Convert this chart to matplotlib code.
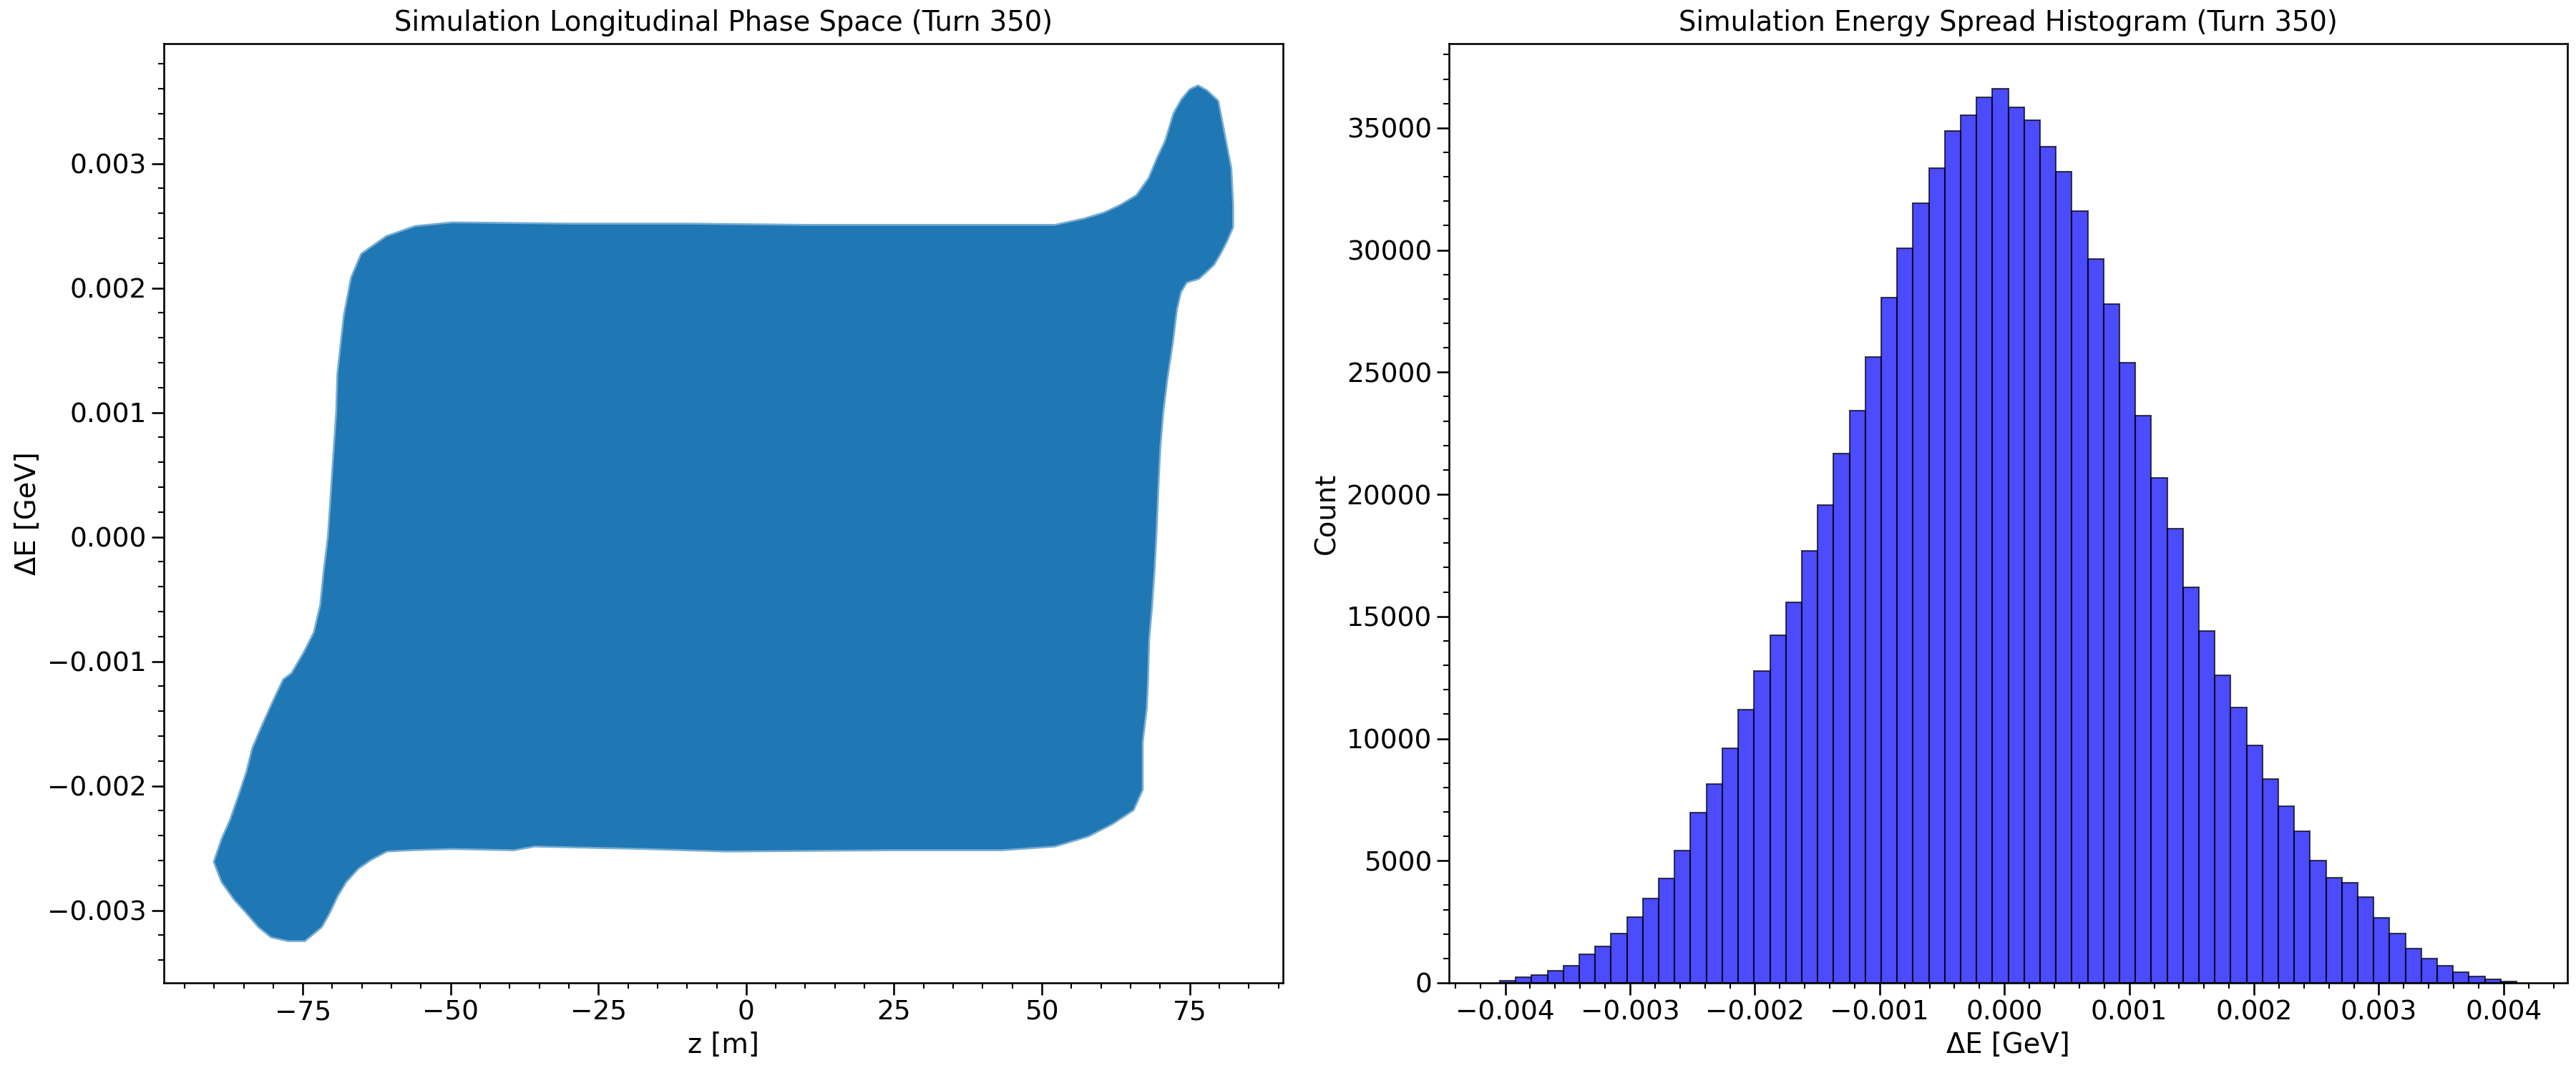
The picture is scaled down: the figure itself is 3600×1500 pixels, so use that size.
import numpy as np
import matplotlib
matplotlib.use("Agg")
import matplotlib.pyplot as plt
from matplotlib.ticker import AutoMinorLocator

# outline of the particle cloud (z [m], dE [GeV])
cloud_z = [-70.6, -69.2, -69.0, -67.9, -66.7, -65.0, -60.8, -56.0, -49.7,
           -30.0, -10.0, 10.0, 30.0, 52.2,
           57.1, 60.6, 63.3, 66.1, 68.2, 69.6, 71.0, 72.4, 73.7, 75.1, 76.4,
           77.9, 79.7, 81.0, 81.9, 82.2, 82.2, 81.2, 80.0, 79.0, 76.5, 74.4,
           73.4, 72.7, 72.0, 71.1, 70.4, 69.9, 69.6, 69.2,
           68.9, 68.5, 68.0, 67.8, 67.6, 66.9, 66.9, 65.4, 61.9, 57.8, 52.2,
           43.2, 24.4, -3.3, -17.2, -35.8, -39.3, -49.7, -56.7, -60.8, -63.6,
           -65.7, -67.8, -69.2, -70.6, -71.9, -74.7, -77.5, -80.3, -82.4,
           -84.4, -86.5, -88.6, -89.9, -88.6, -87.2, -85.8, -84.4, -83.4,
           -81.7, -79.9, -78.2, -76.8, -74.7, -73.0, -71.9, -71.3]
cloud_de = [0.0, 0.00100, 0.00131, 0.00178, 0.00208, 0.00227, 0.00241, 0.00249, 0.00252,
            0.00251, 0.00251, 0.00250, 0.00250, 0.00250,
            0.00255, 0.00260, 0.00266, 0.00274, 0.00288, 0.00304, 0.00318, 0.00340, 0.00351, 0.00359, 0.00362,
            0.00358, 0.00350, 0.00318, 0.00296, 0.00266, 0.00249, 0.00238, 0.00227, 0.00219, 0.00208, 0.00205,
            0.00197, 0.00183, 0.00156, 0.00128, 0.00101, 0.00073, 0.00045, 0.0,
            -0.00027, -0.00055, -0.00082, -0.00115, -0.00137, -0.00165, -0.00203, -0.00219, -0.00230, -0.00240, -0.00248,
            -0.00251, -0.00251, -0.00252, -0.00250, -0.00248, -0.00251, -0.00250, -0.00251, -0.00252, -0.00259,
            -0.00266, -0.00277, -0.00288, -0.00302, -0.00313, -0.00324, -0.00324, -0.00321, -0.00313,
            -0.00302, -0.00291, -0.00277, -0.00261, -0.00243, -0.00228, -0.00209, -0.00189, -0.00170,
            -0.00151, -0.00132, -0.00115, -0.00110, -0.00093, -0.00077, -0.00055, -0.00027]

# energy spread histogram: 64 bins
hist_start = -0.004043
hist_binwidth = 0.0001273
hist_counts = [80, 222, 333, 492, 714, 1159, 1508, 2016, 2683, 3444,
               4270, 5429, 6984, 8127, 9603, 11190, 12778, 14222, 15571, 17698,
               19571, 21667, 23431, 25633, 28054, 30073, 31910, 33358, 34866, 35523,
               36241, 36618, 35839, 35328, 34221, 33200, 31594, 29635, 27786, 25389,
               23212, 20667, 18587, 16206, 14397, 12587, 11286, 9730, 8349, 7222,
               6206, 5000, 4317, 4095, 3524, 2667, 2032, 1397, 1000, 698,
               444, 270, 143, 48]

turn = 350

plt.rcParams["font.family"] = "DejaVu Sans"
plt.rcParams["font.size"] = 18
plt.rcParams["axes.linewidth"] = 1.25
plt.rcParams["xtick.major.size"] = 8
plt.rcParams["ytick.major.size"] = 8
plt.rcParams["xtick.minor.size"] = 4
plt.rcParams["ytick.minor.size"] = 4
plt.rcParams["xtick.major.width"] = 1.25
plt.rcParams["ytick.major.width"] = 1.25
plt.rcParams["xtick.minor.width"] = 1.0
plt.rcParams["ytick.minor.width"] = 1.0
plt.rcParams["xtick.labelsize"] = 18
plt.rcParams["ytick.labelsize"] = 18

fig = plt.figure(figsize=(24, 10), dpi=150)
ax1 = fig.add_axes([0.0636, 0.084, 0.4345, 0.8753])
ax2 = fig.add_axes([0.5625, 0.084, 0.4342, 0.8753])

# phase space
ax1.fill(cloud_z, cloud_de, color="#1f77b4", lw=0)
ax1.plot(cloud_z + cloud_z[:1], cloud_de + cloud_de[:1], color="#1f77b4",
         alpha=0.6, lw=2.5)
ax1.set_title(f"Simulation Longitudinal Phase Space (Turn {turn})", fontsize=18.5, pad=8.6)
ax1.set_xlabel("z [m]", fontsize=18.5)
ax1.set_ylabel("ΔE [GeV]", fontsize=18.5)

# histogram
edges = hist_start + hist_binwidth * np.arange(len(hist_counts) + 1)
ax2.hist(edges[:-1], bins=edges, weights=hist_counts, color="blue", alpha=0.7,
         edgecolor="black", linewidth=1.0)
ax2.set_xlim(edges[0] - 0.05 * (edges[-1] - edges[0]),
             edges[-1] + 0.05 * (edges[-1] - edges[0]))
ax2.set_ylim(0, max(hist_counts) * 1.05)
ax2.set_title(f"Simulation Energy Spread Histogram (Turn {turn})", fontsize=18.5, pad=8.6)
ax2.set_xlabel("ΔE [GeV]", fontsize=18.5)
ax2.set_ylabel("Count", fontsize=18.5)

for ax in (ax1, ax2):
    ax.xaxis.set_minor_locator(AutoMinorLocator())
    ax.yaxis.set_minor_locator(AutoMinorLocator())

fig.savefig("out.png", dpi=150)
